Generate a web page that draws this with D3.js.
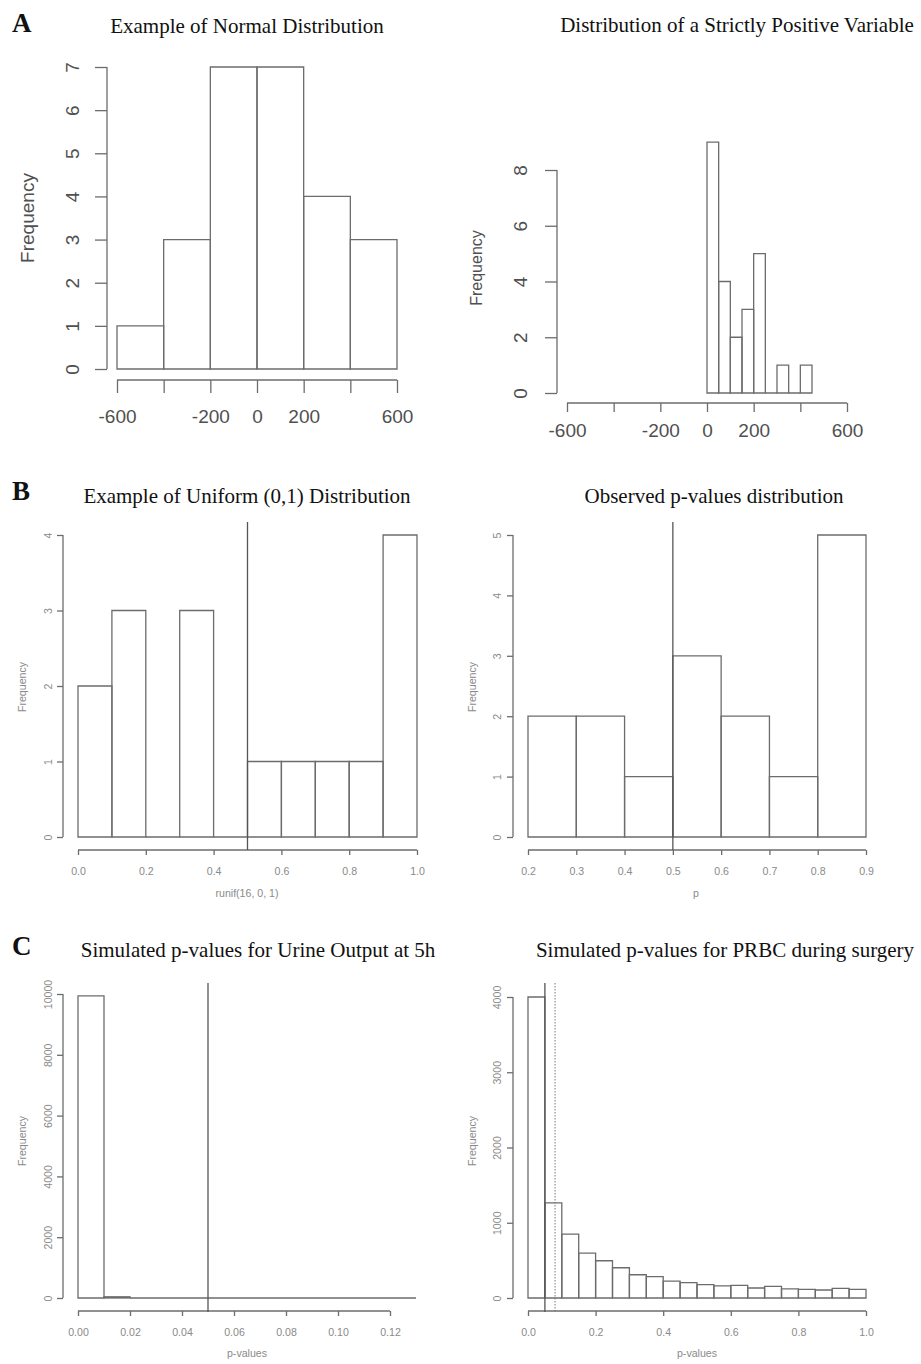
<!DOCTYPE html>
<html>
<head>
<meta charset="utf-8">
<script src="https://cdn.jsdelivr.net/npm/d3@7"></script>
<style>
  body { margin: 0; background: #fff; }
  svg { display: block; }
  .title { font-family: "Liberation Serif", "Times New Roman", serif; fill: #111; }
  .letter { font-family: "Liberation Serif", "Times New Roman", serif; font-weight: bold; fill: #111; }
  .lab { font-family: "Liberation Sans", Arial, sans-serif; }
</style>
</head>
<body>
<div id="chart"></div>
<script>
// ---- data ----
// A, left: normal example
var normalBreaks = [-600, -400, -200, 0, 200, 400, 600];
var normalCounts = [1, 3, 7, 7, 4, 3];
var normalXTicks = [-600, -400, -200, 0, 200, 400, 600];
var normalXLabels = ["-600", "", "-200", "0", "200", "", "600"];
var normalYTicks = [0, 1, 2, 3, 4, 5, 6, 7];

// A, right: strictly positive variable
var positiveBreaks = [0, 50, 100, 150, 200, 250, 300, 350, 400, 450];
var positiveCounts = [9, 4, 2, 3, 5, 0, 1, 0, 1];
var positiveXTicks = [-600, -400, -200, 0, 200, 400, 600];
var positiveXLabels = ["-600", "", "-200", "0", "200", "", "600"];
var positiveYTicks = [0, 2, 4, 6, 8];

// B, left: uniform (0,1)
var uniformBreaks = [0, 0.1, 0.2, 0.3, 0.4, 0.5, 0.6, 0.7, 0.8, 0.9, 1.0];
var uniformCounts = [2, 3, 0, 3, 0, 1, 1, 1, 1, 4];
var uniformXTicks = [0, 0.2, 0.4, 0.6, 0.8, 1.0];
var uniformXLabels = ["0.0", "0.2", "0.4", "0.6", "0.8", "1.0"];
var uniformYTicks = [0, 1, 2, 3, 4];
var uniformVLines = [0.5];

// B, right: observed p-values
var observedBreaks = [0.2, 0.3, 0.4, 0.5, 0.6, 0.7, 0.8, 0.9];
var observedCounts = [2, 2, 1, 3, 2, 1, 5];
var observedXTicks = [0.2, 0.3, 0.4, 0.5, 0.6, 0.7, 0.8, 0.9];
var observedXLabels = ["0.2", "0.3", "0.4", "0.5", "0.6", "0.7", "0.8", "0.9"];
var observedYTicks = [0, 1, 2, 3, 4, 5];
var observedVLines = [0.5];

// C, left: urine output simulation
var urineBreaks = [0, 0.01, 0.02, 0.03, 0.04, 0.05, 0.06, 0.07, 0.08, 0.09, 0.10, 0.11, 0.12, 0.13];
var urineCounts = [9940, 40, 0, 0, 0, 0, 0, 0, 0, 0, 0, 0, 0];
var urineXTicks = [0, 0.02, 0.04, 0.06, 0.08, 0.10, 0.12];
var urineXLabels = ["0.00", "0.02", "0.04", "0.06", "0.08", "0.10", "0.12"];
var urineYTicks = [0, 2000, 4000, 6000, 8000, 10000];
var urineVLines = [0.05];

// C, right: PRBC simulation
var prbcBreaks = [0, 0.05, 0.1, 0.15, 0.2, 0.25, 0.3, 0.35, 0.4, 0.45, 0.5,
                  0.55, 0.6, 0.65, 0.7, 0.75, 0.8, 0.85, 0.9, 0.95, 1.0];
var prbcCounts = [4000, 1265, 850, 597, 495, 402, 309, 283, 225, 205,
                  177, 160, 168, 133, 155, 120, 115, 106, 129, 115];
var prbcXTicks = [0, 0.2, 0.4, 0.6, 0.8, 1.0];
var prbcXLabels = ["0.0", "0.2", "0.4", "0.6", "0.8", "1.0"];
var prbcYTicks = [0, 1000, 2000, 3000, 4000];
var prbcVLines = [0.05];
var prbcDotted = [0.08];

var width = 921, height = 1364;
var lineColor = "#6c6c6c";

var svg = d3.select("#chart").append("svg")
    .attr("width", width)
    .attr("height", height);

// panel letters
var letters = [["A", 12, 32], ["B", 12, 500], ["C", 12, 955]];
svg.selectAll(".letter").data(letters).enter()
    .append("text")
    .attr("class", "letter")
    .attr("x", d => d[1])
    .attr("y", d => d[2])
    .attr("font-size", 27)
    .text(d => d[0]);

var panels = [
  { title: "Example of Normal Distribution", tx: 247, ty: 33,
    breaks: normalBreaks, counts: normalCounts, xTicks: normalXTicks, xLabels: normalXLabels, yTicks: normalYTicks,
    xDom: [-600, 600], xRange: [117, 397], yDom: [0, 7], yRange: [369, 67],
    yAxisX: 107, xAxisY: 380, yTick: 12, xTick: 13, fs: 19, labColor: "#505050",
    yLabX: 72, xLabY: 423, ylab: "Frequency", ylabX: 27, ylabY: 218, ylabFs: 19 },
  { title: "Distribution of a Strictly Positive Variable", tx: 737, ty: 32,
    breaks: positiveBreaks, counts: positiveCounts, xTicks: positiveXTicks, xLabels: positiveXLabels, yTicks: positiveYTicks,
    xDom: [-600, 600], xRange: [567, 847], yDom: [0, 8], yRange: [393, 170],
    yAxisX: 557, xAxisY: 403, yTick: 12, xTick: 9, fs: 19, labColor: "#505050",
    yLabX: 520, xLabY: 437, ylab: "Frequency", ylabX: 476, ylabY: 268, ylabFs: 16 },
  { title: "Example of Uniform (0,1) Distribution", tx: 247, ty: 503,
    breaks: uniformBreaks, counts: uniformCounts, xTicks: uniformXTicks, xLabels: uniformXLabels, yTicks: uniformYTicks,
    xDom: [0, 1], xRange: [78, 417], yDom: [0, 4], yRange: [837, 535],
    yAxisX: 63, xAxisY: 850, yTick: 6, xTick: 5, fs: 10.6, labColor: "#8a8a8a",
    yLabX: 48, xLabY: 875, ylab: "Frequency", ylabX: 22, ylabY: 687, ylabFs: 10.6,
    xlab: "runif(16, 0, 1)", xlabX: 247, xlabY: 897,
    vlines: uniformVLines, vTop: 522, vBottom: 850 },
  { title: "Observed p-values distribution", tx: 714, ty: 503,
    breaks: observedBreaks, counts: observedCounts, xTicks: observedXTicks, xLabels: observedXLabels, yTicks: observedYTicks,
    xDom: [0.2, 0.9], xRange: [528, 866], yDom: [0, 5], yRange: [837, 535],
    yAxisX: 513, xAxisY: 850, yTick: 6, xTick: 5, fs: 10.6, labColor: "#8a8a8a",
    yLabX: 497, xLabY: 875, ylab: "Frequency", ylabX: 472, ylabY: 687, ylabFs: 10.6,
    xlab: "p", xlabX: 696, xlabY: 897,
    vlines: observedVLines, vTop: 522, vBottom: 850 },
  { title: "Simulated p-values for Urine Output at 5h", tx: 258, ty: 957,
    breaks: urineBreaks, counts: urineCounts, xTicks: urineXTicks, xLabels: urineXLabels, yTicks: urineYTicks,
    xDom: [0, 0.12], xRange: [78, 390], yDom: [0, 10000], yRange: [1298, 994],
    yAxisX: 63, xAxisY: 1311, yTick: 6, xTick: 5, fs: 10.6, labColor: "#8a8a8a",
    yLabX: 48, xLabY: 1336, ylab: "Frequency", ylabX: 22, ylabY: 1141, ylabFs: 10.6,
    xlab: "p-values", xlabX: 247, xlabY: 1357,
    vlines: urineVLines, vTop: 983, vBottom: 1312 },
  { title: "Simulated p-values for PRBC during surgery", tx: 725, ty: 957,
    breaks: prbcBreaks, counts: prbcCounts, xTicks: prbcXTicks, xLabels: prbcXLabels, yTicks: prbcYTicks,
    xDom: [0, 1], xRange: [528, 866], yDom: [0, 4000], yRange: [1298, 997],
    yAxisX: 513, xAxisY: 1311, yTick: 6, xTick: 5, fs: 10.6, labColor: "#8a8a8a",
    yLabX: 497, xLabY: 1336, ylab: "Frequency", ylabX: 472, ylabY: 1141, ylabFs: 10.6,
    xlab: "p-values", xlabX: 697, xlabY: 1357,
    vlines: prbcVLines, dotted: prbcDotted, vTop: 983, vBottom: 1312 }
];

panels.forEach(drawPanel);

function drawPanel(p) {
    var g = svg.append("g");

    var x = d3.scaleLinear().domain(p.xDom).range(p.xRange);
    var y = d3.scaleLinear().domain(p.yDom).range(p.yRange);

    // title
    g.append("text")
        .attr("class", "title")
        .attr("x", p.tx)
        .attr("y", p.ty)
        .attr("text-anchor", "middle")
        .attr("font-size", 21)
        .text(p.title);

    // bars, drawn as paths so empty bins still show as a flat line
    var bins = p.counts.map(function (c, i) {
        return { x0: p.breaks[i], x1: p.breaks[i + 1], n: c };
    });
    g.selectAll(".bar").data(bins)
        .enter()
        .append("path")
        .attr("class", "bar")
        .attr("fill", "none")
        .attr("stroke", lineColor)
        .attr("stroke-width", 1.3)
        .attr("d", function (d) {
            var a = x(d.x0), b = x(d.x1), y0 = y(0), y1 = y(d.n);
            return "M" + a + "," + y0 + "V" + y1 + "H" + b + "V" + y0 + "Z";
        });

    // x axis
    var xa = g.append("g")
        .attr("transform", "translate(0," + p.xAxisY + ")")
        .call(d3.axisBottom(x).tickValues(p.xTicks).tickSize(p.xTick)
            .tickFormat(function (d, i) { return p.xLabels[i]; }));
    xa.select(".domain").remove();
    xa.append("line")
        .attr("x1", x(p.xTicks[0]))
        .attr("x2", x(p.xTicks[p.xTicks.length - 1]))
        .attr("stroke", lineColor);
    xa.selectAll("line").attr("stroke", lineColor).attr("stroke-width", 1.3);
    xa.selectAll("text")
        .attr("class", "lab")
        .attr("y", p.xLabY - p.xAxisY)
        .attr("dy", 0)
        .attr("font-size", p.fs)
        .attr("fill", p.labColor);

    // y axis, labels turned like base R
    var ya = g.append("g")
        .attr("transform", "translate(" + p.yAxisX + ",0)")
        .call(d3.axisLeft(y).tickValues(p.yTicks).tickSize(p.yTick).tickFormat(d3.format("d")));
    ya.select(".domain").remove();
    ya.append("line")
        .attr("y1", y(p.yTicks[0]))
        .attr("y2", y(p.yTicks[p.yTicks.length - 1]))
        .attr("stroke", lineColor);
    ya.selectAll("line").attr("stroke", lineColor).attr("stroke-width", 1.3);
    ya.selectAll("text")
        .attr("class", "lab")
        .attr("x", 0)
        .attr("dy", "0.35em")
        .attr("text-anchor", "middle")
        .attr("transform", "translate(" + (p.yLabX - p.yAxisX) + ",0) rotate(-90)")
        .attr("font-size", p.fs)
        .attr("fill", p.labColor);

    // axis titles
    g.append("text")
        .attr("class", "lab")
        .attr("transform", "translate(" + p.ylabX + "," + p.ylabY + ") rotate(-90)")
        .attr("dy", "0.35em")
        .attr("text-anchor", "middle")
        .attr("font-size", p.ylabFs)
        .attr("fill", p.labColor)
        .text(p.ylab);

    if (p.xlab) {
        g.append("text")
            .attr("class", "lab")
            .attr("x", p.xlabX)
            .attr("y", p.xlabY)
            .attr("text-anchor", "middle")
            .attr("font-size", p.fs)
            .attr("fill", p.labColor)
            .text(p.xlab);
    }

    // reference lines
    (p.vlines || []).forEach(function (v) {
        g.append("line")
            .attr("x1", x(v)).attr("x2", x(v))
            .attr("y1", p.vTop).attr("y2", p.vBottom)
            .attr("stroke", "#555")
            .attr("stroke-width", 1.3);
    });
    (p.dotted || []).forEach(function (v) {
        g.append("line")
            .attr("x1", x(v)).attr("x2", x(v))
            .attr("y1", p.vTop).attr("y2", p.vBottom)
            .attr("stroke", "#777")
            .attr("stroke-width", 1)
            .attr("stroke-dasharray", "1.5,1.5");
    });
}
</script>
</body>
</html>
